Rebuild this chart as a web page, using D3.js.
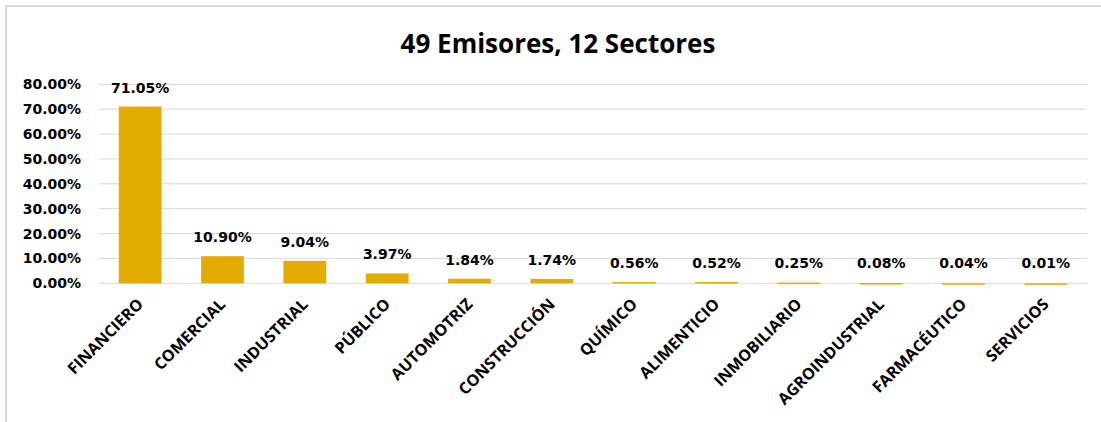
<!DOCTYPE html>
<html><head><meta charset="utf-8">
<script src="https://cdn.jsdelivr.net/npm/d3@7"></script>
<style>body{margin:0;background:#fff}svg{display:block}</style>
</head><body>
<script>
const categories = ["FINANCIERO","COMERCIAL","INDUSTRIAL","PÚBLICO","AUTOMOTRIZ","CONSTRUCCIÓN","QUÍMICO","ALIMENTICIO","INMOBILIARIO","AGROINDUSTRIAL","FARMACÉUTICO","SERVICIOS"];
const values = [71.05,10.90,9.04,3.97,1.84,1.74,0.56,0.52,0.25,0.08,0.04,0.01];
const yTicks = [0,10,20,30,40,50,60,70,80];
const title = "49 Emisores, 12 Sectores";

const W=1101,H=422;
const svg=d3.select("body").append("svg").attr("width",W).attr("height",H);
svg.append("rect").attr("x",6).attr("y",6).attr("width",W+10).attr("height",H+10)
  .attr("fill","#fff").attr("stroke","#d9d9d9").attr("stroke-width",2);

const x=d3.scaleBand().domain(categories).range([99,1087]).paddingInner(0.48).paddingOuter(0.24);
const y=d3.scaleLinear().domain([0,80]).range([283.3,84.3]);

svg.append("text").attr("x",558).attr("y",53).attr("text-anchor","middle")
  .attr("font-family","'Open Sans',sans-serif").attr("font-weight","bold").attr("font-size",26)
  .attr("fill","#000").text(title);

const grid=svg.append("g");
grid.selectAll("line").data(yTicks).join("line")
  .attr("x1",99).attr("x2",1087).attr("y1",d=>y(d)).attr("y2",d=>y(d))
  .attr("stroke","#d9d9d9").attr("stroke-width",1);

const yAxis=svg.append("g").attr("transform","translate(99,0)")
  .call(d3.axisLeft(y).tickValues(yTicks).tickSize(0).tickPadding(18).tickFormat(d=>d.toFixed(2)+"%"));
yAxis.select(".domain").remove();
yAxis.selectAll("text").attr("font-family","'DejaVu Sans',sans-serif").attr("font-weight","bold")
  .attr("font-size",14).attr("fill","#000");

svg.append("g").selectAll("rect").data(values).join("rect")
  .attr("x",(d,i)=>x(categories[i])).attr("width",x.bandwidth())
  .attr("y",d=>y(d)).attr("height",d=>Math.max(1.5,y(0)-y(d)))
  .attr("fill","#E2AC00");

svg.append("g").selectAll("text").data(values).join("text")
  .attr("x",(d,i)=>x(categories[i])+x.bandwidth()/2).attr("y",d=>Math.min(y(d),y(0)-1.5)-14)
  .attr("text-anchor","middle").attr("font-family","'DejaVu Sans',sans-serif").attr("font-weight","bold")
  .attr("font-size",14).attr("fill","#000").text(d=>d.toFixed(2)+"%");

const xAxis=svg.append("g").attr("transform",`translate(0,${y(0)})`)
  .call(d3.axisBottom(x).tickSize(0).tickPadding(0));
xAxis.select(".domain").remove();
xAxis.selectAll("text")
  .attr("font-family","'Open Sans',sans-serif").attr("font-weight","bold").attr("font-size",16)
  .attr("fill","#000")
  .attr("text-anchor","end").attr("dy",null).attr("y",0)
  .attr("transform","translate(4,22) rotate(-45)");
</script>
</body></html>
